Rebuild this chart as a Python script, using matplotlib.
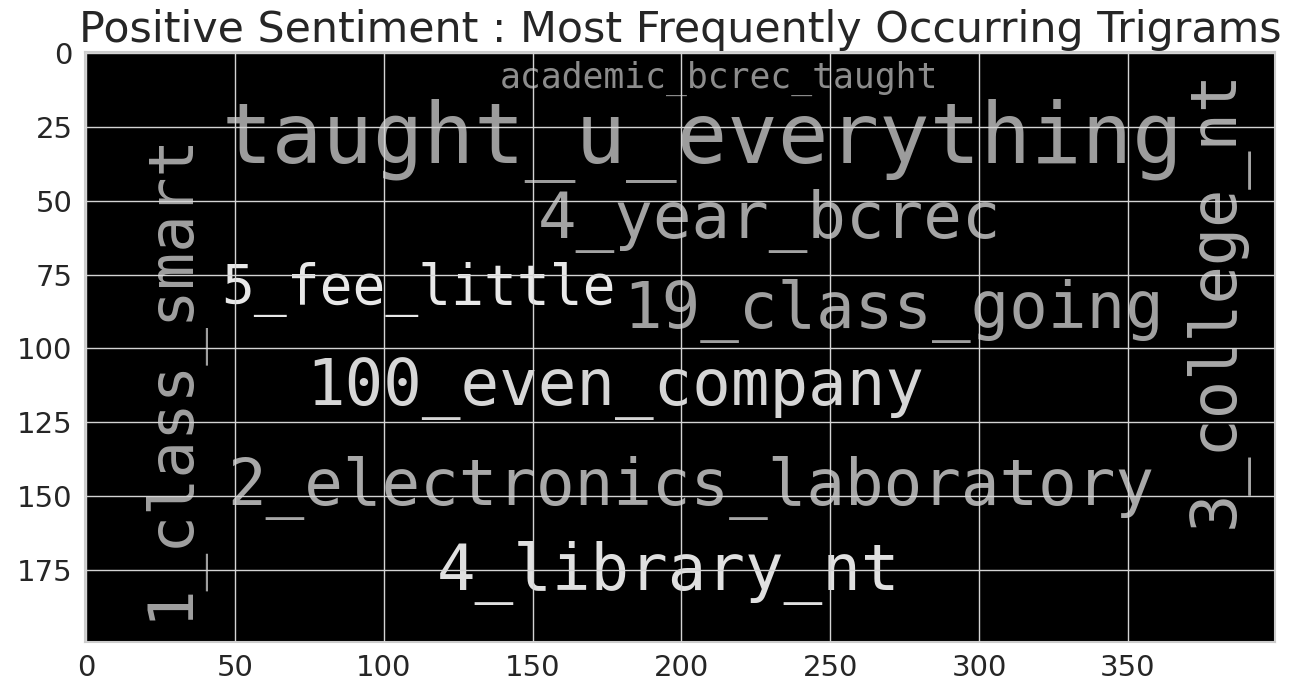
import matplotlib
matplotlib.use("Agg")
import matplotlib.pyplot as plt

# --- data ---
words = ["academic_bcrec_taught", "taught_u_everything", "4_year_bcrec", "5_fee_little",
         "19_class_going", "100_even_company", "2_electronics_laboratory", "4_library_nt",
         "1_class_smart", "3_college_nt"]
font_sizes = [25, 60.5, 46.2, 39.3, 46.2, 46.2, 46.3, 46.2, 45.0, 45.8]
x_pos = [138.9, 45.4, 151.7, 45.4, 180.4, 73.8, 47.4, 117.7, 33.5, 385.2]
y_pos = [11.7, 37.1, 62.6, 84.9, 93.1, 119.0, 153.1, 181.9, 192.0, 160.9]
rotations = [0, 0, 0, 0, 0, 0, 0, 0, 90, 90]
colors = ["#8c8c8c", "#9c9c9c", "#a3a3a3", "#e8e8e8", "#a0a0a0", "#d6d6d6",
          "#a8a8a8", "#e0e0e0", "#a0a0a0", "#a8a8a8"]
x_ticks = [0, 50, 100, 150, 200, 250, 300, 350]
y_ticks = [0, 25, 50, 75, 100, 125, 150, 175]
title = "Positive Sentiment : Most Frequently Occurring Trigrams"
img_w, img_h = 400, 200

fig = plt.figure(figsize=(12.96, 6.91), dpi=100)
ax = fig.add_axes([85 / 1296, 1 - 642 / 691, (1275 - 85) / 1296, (642 - 52) / 691])
ax.set_facecolor("black")
ax.set_xlim(-0.5, img_w - 0.5)
ax.set_ylim(img_h - 0.5, -0.5)

for w, s, x, y, r, c in zip(words, font_sizes, x_pos, y_pos, rotations, colors):
    ax.text(x, y, w, fontsize=s, color=c, rotation=r, rotation_mode="anchor",
            ha="left", va="baseline", family="DejaVu Sans Mono", zorder=0.2,
            clip_on=True)

ax.set_xticks(x_ticks)
ax.set_yticks(y_ticks)
ax.grid(True, color="#d4d4d4", linewidth=1.0, zorder=1)
ax.set_axisbelow(False)
ax.tick_params(length=0, labelsize=21, labelcolor="#262626", pad=9)
for sp in ax.spines.values():
    sp.set_color("#cccccc")
    sp.set_linewidth(1.5)
ax.set_title(title, fontsize=30.8, color="#262626", pad=7)

fig.savefig("out.png", dpi=100)
